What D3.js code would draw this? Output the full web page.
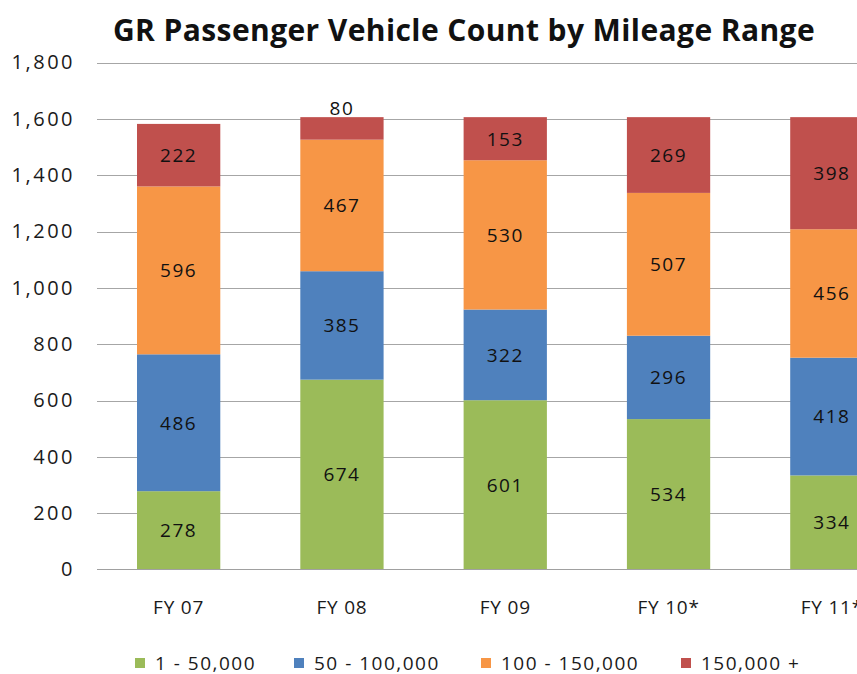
<!DOCTYPE html>
<html><head><meta charset="utf-8">
<script src="https://cdn.jsdelivr.net/npm/d3@7"></script>
<style>body{margin:0;background:#fff}svg{display:block}</style>
</head><body><svg id="c" width="857" height="674"></svg>
<script>
const categories = ["FY 07","FY 08","FY 09","FY 10*","FY 11*"];
const seriesNames = ["1 - 50,000","50 - 100,000","100 - 150,000","150,000 +"];
const s1 = [278,674,601,534,334];
const s2 = [486,385,322,296,418];
const s3 = [596,467,530,507,456];
const s4 = [222,80,153,269,398];
const yTicks = [0,200,400,600,800,1000,1200,1400,1600,1800];
const colors = ["#9BBB59","#4F81BD","#F79646","#C0504D"];

const svg = d3.select("#c");
const font = "'Open Sans', sans-serif";
const x = d3.scaleBand().domain(categories).range([97, 913.5]).paddingInner(0.49).paddingOuter(0.245);
const y = d3.scaleLinear().domain([0,1800]).range([569.5, 62.5]);

const rows = categories.map((c,i)=>({cat:c, a:s1[i], b:s2[i], c2:s3[i], d:s4[i]}));
const stack = d3.stack().keys(["a","b","c2","d"])(rows);

// gridlines
svg.append("g").selectAll("line").data(yTicks.filter(t=>t>0)).join("line")
  .attr("x1",97).attr("x2",857).attr("y1",d=>Math.round(y(d))+0.5).attr("y2",d=>Math.round(y(d))+0.5)
  .attr("stroke","#a6a6a6").attr("stroke-width",1);

// y axis labels
const yAxis = svg.append("g").attr("transform","translate(97,0)")
  .call(d3.axisLeft(y).tickValues(yTicks).tickSize(0).tickPadding(22).tickFormat(d3.format(",")));
yAxis.select(".domain").remove();
yAxis.selectAll("text").attr("font-family",font).attr("font-size",20).attr("fill","#1a1a1a").attr("letter-spacing",2.5);

// bars
const g = svg.append("g");
stack.forEach((layer,li)=>{
  g.append("g").attr("fill",colors[li]).selectAll("rect").data(layer).join("rect")
    .attr("x",d=>x(d.data.cat)).attr("width",x.bandwidth())
    .attr("y",d=>y(d[1])).attr("height",d=>y(d[0])-y(d[1]));
});
// labels
stack.forEach((layer,li)=>{
  g.append("g").selectAll("text").data(layer).join("text")
    .attr("x",d=>x(d.data.cat)+x.bandwidth()/2)
    .attr("y",d=>{const v=d[1]-d[0]; return v<100 ? y(d[1])-2 : (y(d[0])+y(d[1]))/2;})
    .attr("dy",d=>(d[1]-d[0])<100 ? 0 : "0.36em")
    .attr("text-anchor","middle").attr("font-family",font).attr("font-size",19).attr("letter-spacing",1.5)
    .attr("fill","#111").text(d=>d[1]-d[0]);
});

// x axis
const xAxis = svg.append("g").attr("transform","translate(0,569.5)")
  .call(d3.axisBottom(x).tickSize(0).tickPadding(31));
xAxis.select(".domain").attr("d","M97,0H857").attr("stroke","#a0a0a0");
xAxis.selectAll("text").attr("font-family",font).attr("font-size",19).attr("fill","#1a1a1a").attr("letter-spacing",0.8);

// title
svg.append("text").attr("x",464).attr("y",41).attr("text-anchor","middle")
  .attr("font-family",font).attr("font-weight","bold").attr("font-size",30).attr("letter-spacing",0.4).attr("fill","#111")
  .text("GR Passenger Vehicle Count by Mileage Range");

// legend
const legX = [135,294,481,681];
const leg = svg.append("g").selectAll("g").data(seriesNames).join("g")
  .attr("transform",(d,i)=>`translate(${legX[i]},658)`);
leg.append("rect").attr("width",10).attr("height",10).attr("fill",(d,i)=>colors[i]);
leg.append("text").attr("x",20).attr("y",5).attr("dy","0.36em").attr("font-family",font).attr("font-size",19)
  .attr("letter-spacing",1.5).attr("fill","#1a1a1a").text(d=>d);
</script></body></html>
